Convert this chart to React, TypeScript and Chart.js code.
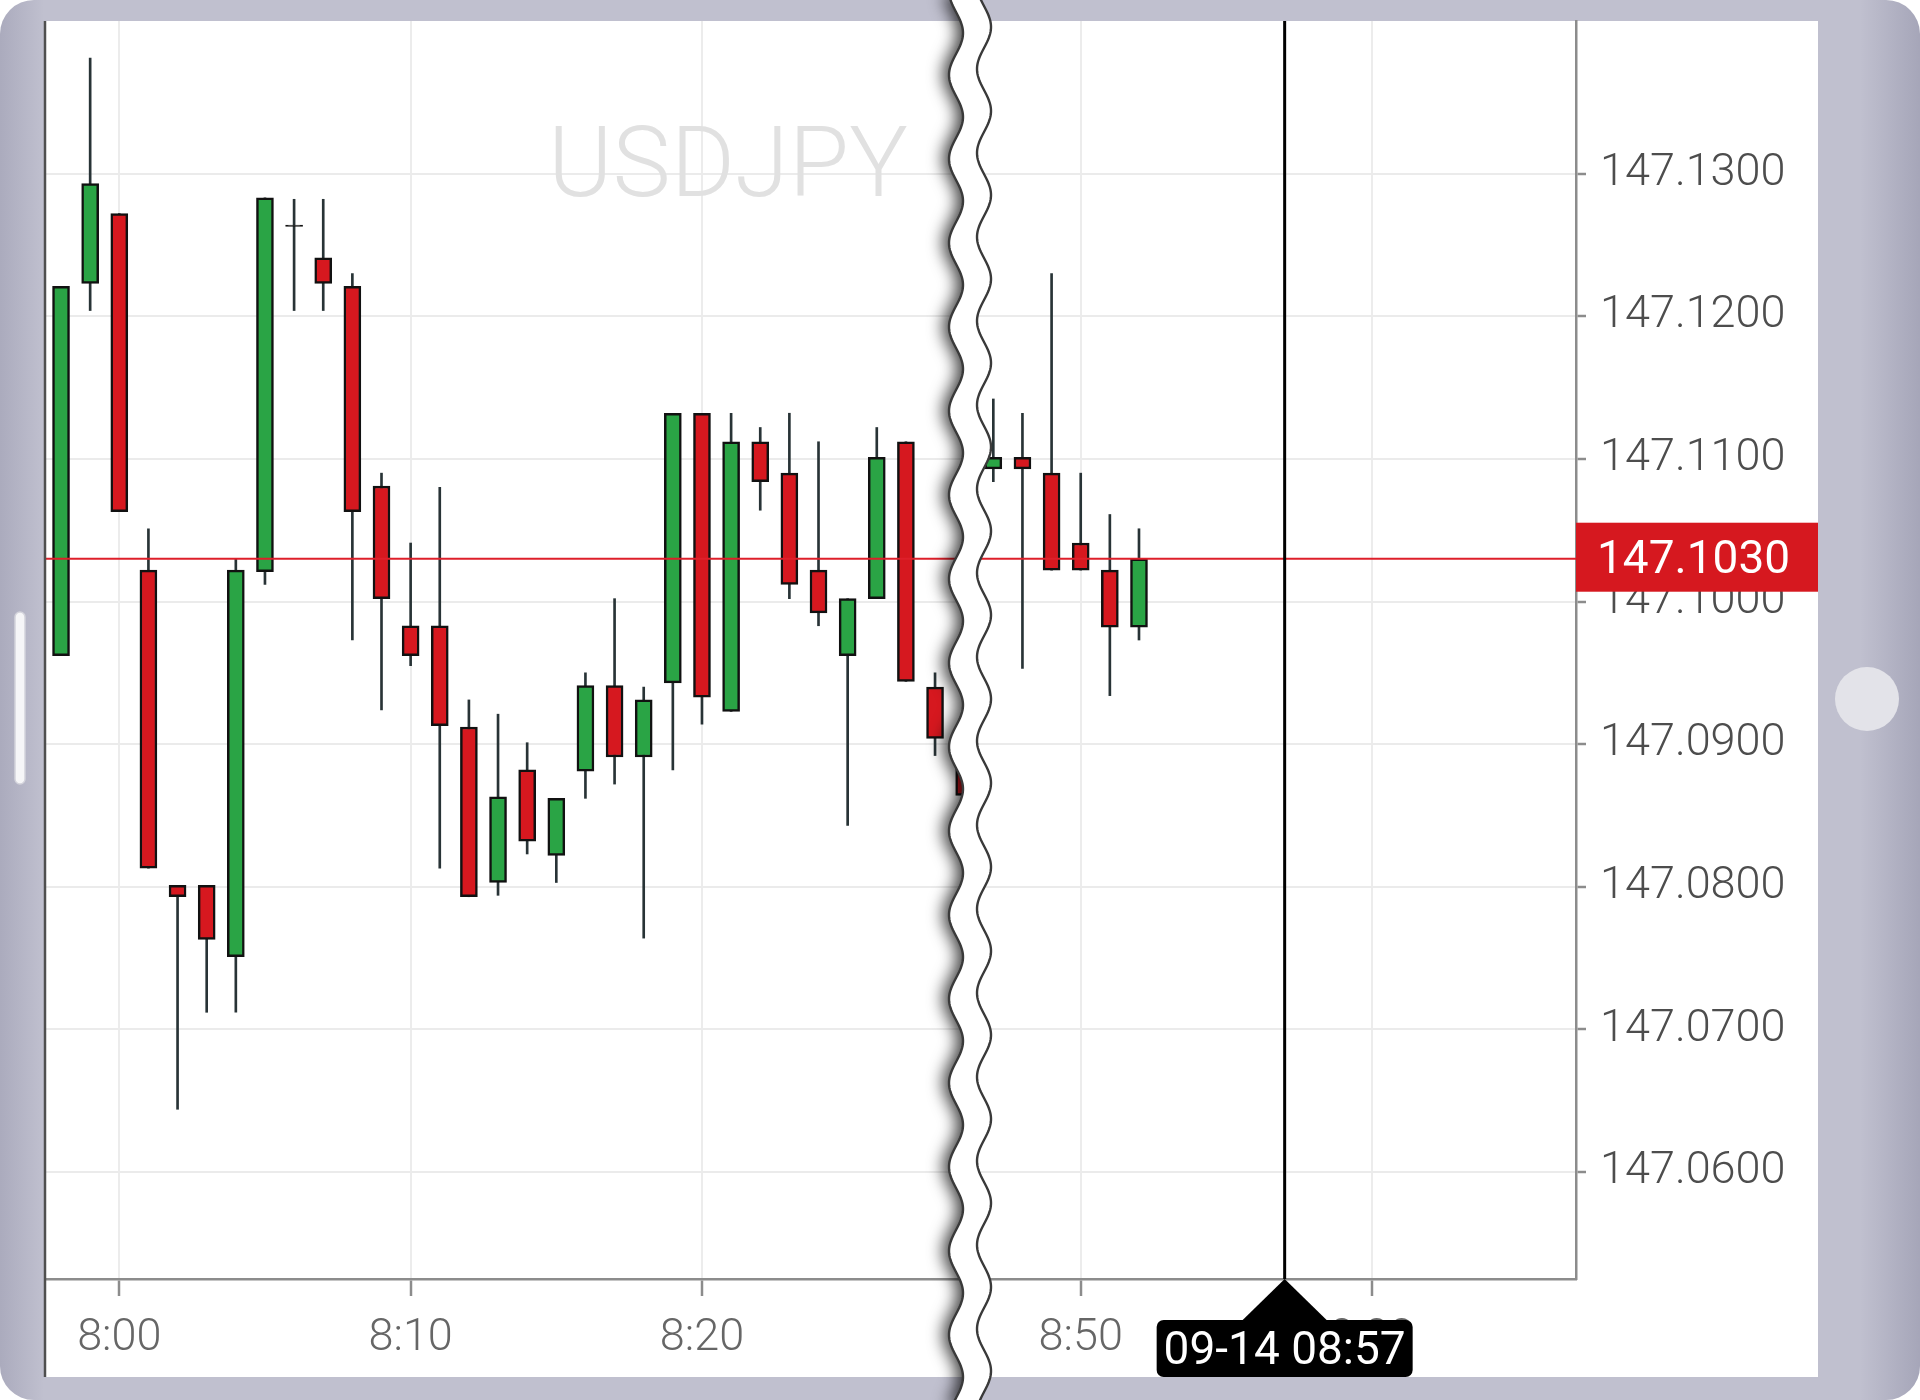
import React, { useEffect, useRef } from 'react';
import { Chart, registerables } from 'chart.js';

Chart.register(...registerables);

// ---------- data ----------
const symbol = 'USDJPY';
const candleTimes = [
  '07:58', '07:59', '08:00', '08:01', '08:02', '08:03', '08:04', '08:05', '08:06', '08:07',
  '08:08', '08:09', '08:10', '08:11', '08:12', '08:13', '08:14', '08:15', '08:16', '08:17',
  '08:18', '08:19', '08:20', '08:21', '08:22', '08:23', '08:24', '08:25', '08:26', '08:27',
  '08:28', '08:29',
  '08:47', '08:48', '08:49', '08:50', '08:51', '08:52',
];
const openPrices = [
  147.0962, 147.1223, 147.1272, 147.1022, 147.0801, 147.0801, 147.0751, 147.1021, 147.1264, 147.1241,
  147.1221, 147.1081, 147.0983, 147.0983, 147.0912, 147.0803, 147.0882, 147.0822, 147.0881, 147.0941,
  147.0891, 147.0943, 147.1132, 147.0923, 147.1112, 147.1090, 147.1022, 147.0962, 147.1002, 147.1112,
  147.0940, 147.0884,
  147.1093, 147.1101, 147.1090, 147.1041, 147.1022, 147.0982,
];
const highPrices = [
  147.1221, 147.1381, 147.1272, 147.1051, 147.0801, 147.0801, 147.1030, 147.1283, 147.1282, 147.1282,
  147.1230, 147.1090, 147.1041, 147.1080, 147.0931, 147.0921, 147.0901, 147.0862, 147.0950, 147.1002,
  147.0940, 147.1132, 147.1132, 147.1132, 147.1122, 147.1132, 147.1112, 147.1002, 147.1122, 147.1112,
  147.0950, 147.0892,
  147.1142, 147.1132, 147.1230, 147.1090, 147.1061, 147.1051,
];
const lowPrices = [
  147.0962, 147.1204, 147.1063, 147.0813, 147.0644, 147.0712, 147.0712, 147.1012, 147.1204, 147.1204,
  147.0973, 147.0924, 147.0955, 147.0813, 147.0793, 147.0794, 147.0823, 147.0803, 147.0862, 147.0872,
  147.0764, 147.0882, 147.0914, 147.0923, 147.1064, 147.1002, 147.0983, 147.0843, 147.1002, 147.0944,
  147.0892, 147.0858,
  147.1084, 147.0953, 147.1022, 147.1022, 147.0934, 147.0973,
];
const closePrices = [
  147.1221, 147.1293, 147.1063, 147.0813, 147.0793, 147.0763, 147.1022, 147.1283, 147.1263, 147.1223,
  147.1063, 147.1002, 147.0962, 147.0913, 147.0793, 147.0863, 147.0832, 147.0862, 147.0941, 147.0891,
  147.0931, 147.1132, 147.0933, 147.1112, 147.1084, 147.1012, 147.0992, 147.1002, 147.1101, 147.0944,
  147.0904, 147.0864,
  147.1101, 147.1093, 147.1022, 147.1022, 147.0982, 147.1030,
];
const xTickTimes = ['8:00', '8:10', '8:20', '8:30', '8:50', '9:00'];
const yTickValues = [147.06, 147.07, 147.08, 147.09, 147.1, 147.11, 147.12, 147.13];
const lastPrice = 147.103;
const cursorDate = '09-14';
const cursorTime = '08:57';
const breakFrom = '08:30';
const breakTo = '08:47';

// ---------- helpers ----------
const BASE_MIN = 8 * 60;
const toMin = (t: string) => {
  const [h, m] = t.split(':').map(Number);
  return h * 60 + m;
};
const gapMinutes = toMin(breakTo) - toMin(breakFrom);
const toAxis = (t: string) => {
  const m = toMin(t);
  const v = m - BASE_MIN;
  return m >= toMin(breakTo) ? v - gapMinutes : v;
};

const GREEN = '#2aa445';
const RED = '#d6181f';
const DOJI = '#2a2a2a';
const FONT = 'Roboto';
const X_LABEL_COLOR = '#666';
const X_PAD = 16;
const X_TICK_LEN = 17;

export default function App() {
  const ref = useRef<HTMLCanvasElement | null>(null);

  useEffect(() => {
    if (!ref.current) return;
    const xs0 = candleTimes.map(toAxis);
    const bodyColors = candleTimes.map((_, i) => {
      const d = closePrices[i] - openPrices[i];
      if (Math.abs(d) < 0.00015) return DOJI;
      return d > 0 ? GREEN : RED;
    });
    const hiddenTick = toAxis(breakFrom);
    const hiddenLabel = xTickTimes[xTickTimes.findIndex((t) => toAxis(t) === hiddenTick)];
    const breakAxis = toAxis(breakFrom) - 0.8;

    const decor = {
      id: 'decor',
      beforeDraw(chart: any) {
        const { ctx, width, height, chartArea } = chart;
        ctx.save();
        ctx.fillStyle = '#ffffff';
        ctx.fillRect(0, 0, width, height);
        ctx.beginPath();
        ctx.roundRect(0, 0, width, height, 34);
        ctx.fillStyle = '#c0c0cf';
        ctx.fill();
        ctx.clip();
        let g = ctx.createLinearGradient(0, 0, 44, 0);
        g.addColorStop(0, 'rgba(60,60,95,0.16)');
        g.addColorStop(1, 'rgba(60,60,95,0)');
        ctx.fillStyle = g;
        ctx.fillRect(0, 0, 44, height);
        g = ctx.createLinearGradient(width - 60, 0, width, 0);
        g.addColorStop(0, 'rgba(60,60,95,0)');
        g.addColorStop(1, 'rgba(60,60,95,0.2)');
        ctx.fillStyle = g;
        ctx.fillRect(width - 60, 0, 60, height);
        ctx.restore();

        ctx.save();
        ctx.fillStyle = '#ffffff';
        ctx.fillRect(chartArea.left, chartArea.top, 1818 - chartArea.left, 1377 - chartArea.top);
        // left pill
        ctx.beginPath();
        ctx.roundRect(15, 612, 10, 172, 5);
        ctx.fillStyle = '#f6f6f8';
        ctx.fill();
        ctx.strokeStyle = '#d4d4dc';
        ctx.lineWidth = 1.5;
        ctx.stroke();
        // right button
        ctx.beginPath();
        ctx.arc(1867, 699, 32, 0, Math.PI * 2);
        ctx.fillStyle = '#e3e3e9';
        ctx.fill();
        ctx.restore();
      },
      beforeDatasetsDraw(chart: any) {
        const { ctx } = chart;
        ctx.save();
        ctx.font = `300 98px ${FONT}`;
        ctx.fillStyle = '#e1e1e1';
        ctx.textAlign = 'center';
        ctx.textBaseline = 'alphabetic';
        ctx.fillText(symbol, 728, 196);
        ctx.restore();
      },
      afterDatasetsDraw(chart: any) {
        const { ctx, chartArea, scales } = chart;
        const y = scales.y.getPixelForValue(lastPrice);
        ctx.save();
        ctx.strokeStyle = '#de1f2a';
        ctx.lineWidth = 2;
        ctx.beginPath();
        ctx.moveTo(chartArea.left, y);
        ctx.lineTo(chartArea.right, y);
        ctx.stroke();
        const cx = scales.x.getPixelForValue(toAxis(cursorTime));
        ctx.strokeStyle = '#000';
        ctx.lineWidth = 3;
        ctx.beginPath();
        ctx.moveTo(cx, chartArea.top);
        ctx.lineTo(cx, chartArea.bottom);
        ctx.stroke();
        ctx.restore();
      },
      afterDraw(chart: any) {
        const { ctx, chartArea, scales, height } = chart;
        ctx.save();
        // price label
        const py = scales.y.getPixelForValue(lastPrice);
        ctx.fillStyle = RED;
        ctx.fillRect(chartArea.right, py - 36, 1818 - chartArea.right, 69);
        ctx.fillStyle = '#fff';
        ctx.font = `400 46px ${FONT}`;
        ctx.textAlign = 'left';
        ctx.textBaseline = 'alphabetic';
        ctx.fillText(lastPrice.toFixed(4), chartArea.right + 21, py + 14);

        // cursor time label
        const cx = scales.x.getPixelForValue(toAxis(cursorTime));
        const b = chartArea.bottom;
        ctx.fillStyle = '#000';
        ctx.beginPath();
        ctx.moveTo(cx, b);
        ctx.lineTo(cx + 43, b + 42);
        ctx.lineTo(cx - 43, b + 42);
        ctx.closePath();
        ctx.fill();
        ctx.beginPath();
        ctx.roundRect(cx - 128, b + 41, 256, 1377 - (b + 41), 7);
        ctx.fill();
        ctx.fillStyle = '#fff';
        ctx.font = `400 46px ${FONT}`;
        ctx.textAlign = 'center';
        ctx.fillText(`${cursorDate} ${cursorTime}`, cx, 1364);

        // left edge line
        ctx.strokeStyle = '#4f4f4f';
        ctx.lineWidth = 2.5;
        ctx.beginPath();
        ctx.moveTo(chartArea.left, chartArea.top);
        ctx.lineTo(chartArea.left, 1377);
        ctx.stroke();

        // break
        const bc = scales.x.getPixelForValue(breakAxis);

        // tick label that belongs to the left piece only, clipped at the tear
        ctx.save();
        ctx.beginPath();
        ctx.rect(0, b, bc, 1377 - b);
        ctx.clip();
        ctx.fillStyle = X_LABEL_COLOR;
        ctx.font = `300 45px ${FONT}`;
        ctx.textAlign = 'center';
        ctx.textBaseline = 'middle';
        ctx.fillText(hiddenLabel, scales.x.getPixelForValue(hiddenTick), b + X_TICK_LEN + X_PAD + 27);
        ctx.restore();

        const lc = bc - 14;
        const rc = bc + 14;
        const P = 84;
        const A = 7;
        const xl = (yy: number) => lc + A * Math.cos((2 * Math.PI * (yy - 33)) / P);
        const xr = (yy: number) => rc + A * Math.cos((2 * Math.PI * (yy - 27)) / P);
        const band = new Path2D();
        band.moveTo(xl(-6), -6);
        for (let yy = -6; yy <= height + 6; yy += 2) band.lineTo(xl(yy), yy);
        for (let yy = height + 6; yy >= -6; yy -= 2) band.lineTo(xr(yy), yy);
        band.closePath();

        ctx.save();
        ctx.beginPath();
        ctx.rect(0, 0, bc, height);
        ctx.clip();
        ctx.shadowColor = 'rgba(0,0,0,0.75)';
        ctx.shadowBlur = 16;
        ctx.shadowOffsetX = -6;
        ctx.fillStyle = '#fff';
        ctx.fill(band);
        ctx.restore();
        ctx.fillStyle = '#fff';
        ctx.fill(band);

        ctx.strokeStyle = '#3a3a3a';
        ctx.lineWidth = 2.4;
        for (const f of [xl, xr]) {
          ctx.beginPath();
          ctx.moveTo(f(-6), -6);
          for (let yy = -6; yy <= height + 6; yy += 2) ctx.lineTo(f(yy), yy);
          ctx.stroke();
        }
        ctx.restore();
      },
    };

    const chart = new Chart(ref.current, {
      type: 'bar',
      data: {
        datasets: [
          {
            label: 'wick',
            data: candleTimes.map((_, i) => ({ x: xs0[i], y: [lowPrices[i], highPrices[i]] })) as any,
            backgroundColor: '#283336',
            borderWidth: 0,
            barThickness: 2,
            grouped: false,
            order: 2,
          } as any,
          {
            label: 'body',
            data: candleTimes.map((_, i) => ({ x: xs0[i], y: [openPrices[i], closePrices[i]] })) as any,
            backgroundColor: bodyColors,
            borderColor: '#111',
            borderWidth: 2.5,
            borderSkipped: false,
            barThickness: 17,
            grouped: false,
            order: 1,
          } as any,
        ],
      },
      options: {
        responsive: false,
        maintainAspectRatio: false,
        devicePixelRatio: 1,
        animation: false,
        events: [],
        layout: { padding: { left: 45, top: 21, right: 0, bottom: 0 } },
        plugins: { legend: { display: false }, tooltip: { enabled: false } },
        scales: {
          x: {
            type: 'linear',
            position: 'bottom',
            min: -2.55,
            max: 50,
            offset: false,
            afterBuildTicks: (s: any) => {
              s.ticks = xTickTimes.map((t) => ({ value: toAxis(t) }));
            },
            afterFit: (s: any) => {
              s.height = 121;
              s.paddingLeft = 0;
              s.paddingRight = 0;
            },
            ticks: {
              autoSkip: false,
              maxRotation: 0,
              minRotation: 0,
              padding: X_PAD,
              color: (c: any) => (c.tick && c.tick.value === hiddenTick ? 'rgba(0,0,0,0)' : X_LABEL_COLOR),
              font: { family: FONT, size: 45, weight: '300' as any },
              callback: (_v: any, i: number) => xTickTimes[i],
            },
            grid: {
              offset: false,
              lineWidth: 2,
              tickLength: X_TICK_LEN,
              tickWidth: 2.5,
              color: (c: any) => (c.tick && c.tick.value === hiddenTick ? 'rgba(0,0,0,0)' : '#ececec'),
              tickColor: (c: any) => (c.tick && c.tick.value === hiddenTick ? 'rgba(0,0,0,0)' : '#8c8c8c'),
            },
            border: { color: '#8c8c8c', width: 2.5 },
          } as any,
          y: {
            type: 'linear',
            position: 'right',
            min: 147.0525,
            max: 147.1407,
            beginAtZero: false,
            afterBuildTicks: (s: any) => {
              s.ticks = yTickValues.map((v) => ({ value: v }));
            },
            afterFit: (s: any) => {
              s.width = 344;
              s.paddingTop = 0;
              s.paddingBottom = 0;
            },
            ticks: {
              autoSkip: false,
              padding: 14,
              color: '#4d4d4d',
              font: { family: FONT, size: 45, weight: '300' as any },
              callback: (v: any) => Number(v).toFixed(4),
            },
            grid: {
              lineWidth: 2,
              tickLength: 10,
              tickWidth: 2.5,
              color: '#ebebeb',
              tickColor: '#8c8c8c',
            },
            border: { color: '#8c8c8c', width: 2.5 },
          } as any,
        },
      },
      plugins: [decor],
    });

    return () => chart.destroy();
  }, []);

  return (
    <div style={{ position: 'absolute', left: 0, top: 0, width: 1920, height: 1400 }}>
      <canvas ref={ref} width={1920} height={1400} style={{ display: 'block', width: 1920, height: 1400 }} />
    </div>
  );
}
